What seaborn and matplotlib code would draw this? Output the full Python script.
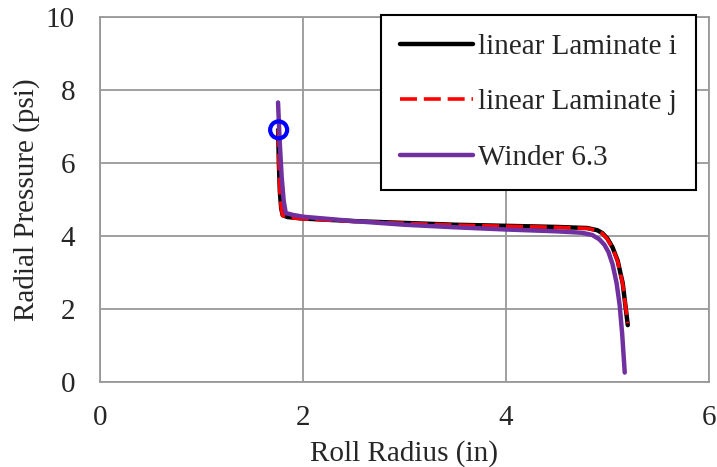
import matplotlib
matplotlib.use("Agg")
import matplotlib.pyplot as plt
import seaborn as sns

radius_i = [1.755, 1.762, 1.772, 1.785, 1.80, 1.85, 2.0, 2.5, 3.0, 3.5, 4.0, 4.5, 4.8, 4.9, 4.95, 5.0, 5.05, 5.1, 5.15, 5.2]
press_i = [6.9, 6.0, 5.2, 4.75, 4.56, 4.51, 4.47, 4.40, 4.35, 4.30, 4.27, 4.24, 4.21, 4.15, 4.07, 3.92, 3.68, 3.32, 2.7, 1.55]

radius_j = [1.755, 1.762, 1.772, 1.785, 1.80, 1.85, 2.0, 2.5, 3.0, 3.5, 4.0, 4.5, 4.8, 4.9, 4.95, 5.0, 5.05, 5.1, 5.15, 5.2]
press_j = [6.9, 6.0, 5.2, 4.75, 4.55, 4.50, 4.46, 4.39, 4.34, 4.29, 4.26, 4.23, 4.20, 4.14, 4.06, 3.9, 3.66, 3.30, 2.68, 1.6]

radius_w = [1.754, 1.77, 1.79, 1.81, 1.83, 1.9, 2.0, 2.5, 3.0, 3.5, 4.0, 4.5, 4.75, 4.85, 4.92, 4.97, 5.01, 5.05, 5.09, 5.12, 5.145, 5.17]
press_w = [7.65, 6.6, 5.6, 4.95, 4.62, 4.57, 4.52, 4.40, 4.30, 4.23, 4.17, 4.12, 4.08, 4.02, 3.9, 3.75, 3.55, 3.22, 2.7, 2.1, 1.3, 0.25]

marker_x = [1.76]
marker_y = [6.9]

x_ticks = [0, 2, 4, 6]
y_ticks = [0, 2, 4, 6, 8, 10]

sns.set_style("white")
plt.rcParams['font.family'] = ['Liberation Serif', 'DejaVu Serif']

FS = 21

fig = plt.figure(figsize=(7.17, 4.67), dpi=100)
ax = fig.add_axes([0.1395, 0.1827, 0.8493, 0.7815])

sns.lineplot(x=radius_i, y=press_i, ax=ax, color="black", lw=3.2, sort=False,
             estimator=None, label="linear Laminate i")
sns.lineplot(x=radius_j, y=press_j, ax=ax, color="#ff0000", lw=2.6, sort=False,
             estimator=None, label="linear Laminate j", dashes=False)
ax.lines[-1].set_dashes([4.7, 1.9])
sns.lineplot(x=radius_w, y=press_w, ax=ax, color="#7030a0", lw=3.2, sort=False,
             estimator=None, label="Winder 6.3")
sns.scatterplot(x=marker_x, y=marker_y, ax=ax, s=150, facecolor="none",
                edgecolor="#0000ff", linewidth=3, zorder=5)

ax.set_xlim(0, 6)
ax.set_ylim(0, 10)
ax.set_xticks(x_ticks)
ax.set_yticks(y_ticks)
ax.grid(True, color="#999999", lw=1.3)
ax.set_axisbelow(True)
for s in ax.spines.values():
    s.set_color("#999999")
    s.set_linewidth(1.3)
ax.tick_params(axis="both", which="major", direction="out", length=7, width=1.3,
               color="#999999", labelsize=FS)
ax.tick_params(axis="x", pad=10)
ax.tick_params(axis="y", pad=11)
ax.set_xlabel("Roll Radius (in)", fontsize=FS, labelpad=6)
ax.set_ylabel("Radial Pressure (psi)", fontsize=FS, labelpad=4)

leg = ax.legend(loc="upper right", bbox_to_anchor=(0.978, 1.006), fontsize=FS,
                frameon=True, fancybox=False, handlelength=2.5, labelspacing=1.0,
                borderpad=0.65, handletextpad=0.15, borderaxespad=0)
leg.get_frame().set_edgecolor("black")
leg.get_frame().set_linewidth(1.5)
leg.get_frame().set_alpha(1)

fig.savefig("out.png", dpi=100)
